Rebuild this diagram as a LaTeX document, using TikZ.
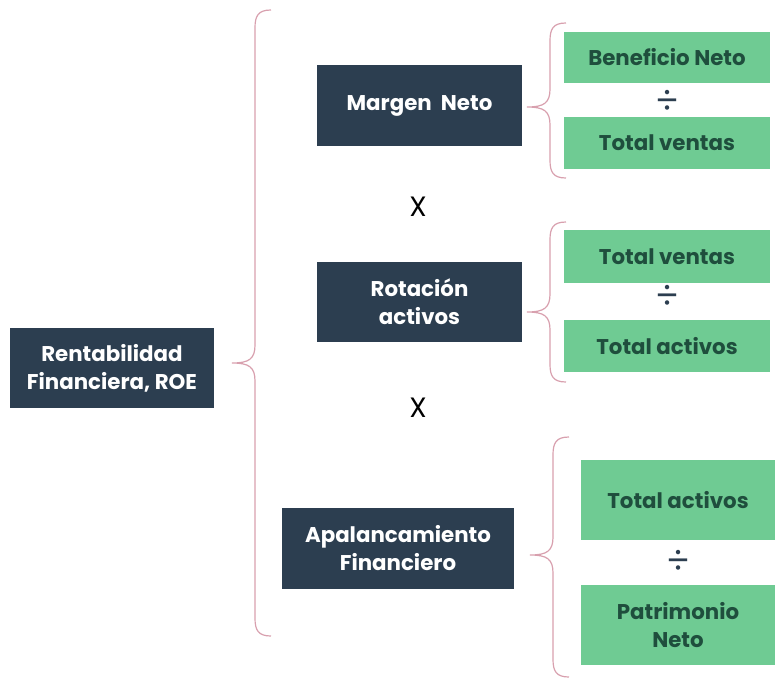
\documentclass[tikz,border=0pt]{standalone}
\usepackage{fontspec}
\setmainfont{Poppins}
\definecolor{navy}{HTML}{2C3E50}
\definecolor{mint}{HTML}{6FCB93}
\definecolor{minttext}{HTML}{1F4E3D}
\definecolor{bracecol}{HTML}{D8A0AE}
% #1 x of the stem, #2 top, #3 y of the tip, #4 bottom, #5 x of the tip
\newcommand{\curlyto}[5]{%
  \draw[curly] (#1+16,#2) .. controls (#1+3,#2) and (#1,#2+6) .. (#1,#2+18)
    -- (#1,#3-18) .. controls (#1,#3-4) and (#1-6,#3) .. (#5,#3)
    .. controls (#1-6,#3) and (#1,#3+4) .. (#1,#3+18)
    -- (#1,#4-18) .. controls (#1,#4-6) and (#1+3,#4) .. (#1+16,#4);}
\begin{document}
\begin{tikzpicture}[x=0.75pt,y=-0.75pt,
    darkbox/.style={fill=navy,text=white,align=center,inner sep=0pt,
      font=\bfseries\fontsize{16}{21}\selectfont},
    greenbox/.style={fill=mint,text=minttext,align=center,inner sep=0pt,
      font=\bfseries\fontsize{16}{21}\selectfont},
    sign/.style={font=\fontsize{21}{22}\selectfont},
    divsign/.style={text=navy,font=\fontsize{27}{28}\selectfont},
    curly/.style={draw=bracecol,line width=0.9pt}]
  \useasboundingbox (0,0) rectangle (775,679);
  % left column
  \node[darkbox,minimum width=153pt,minimum height=60pt] (roe) at (112,368)
    {Rentabilidad\\Financiera, ROE};
  % middle column
  \node[darkbox,minimum width=153.75pt,minimum height=60.75pt] (margen) at (419.5,105.5)
    {Margen\ \ Neto};
  \node[darkbox,minimum width=153.75pt,minimum height=60pt] (rotacion) at (419.5,302)
    {Rotación\\activos};
  \node[darkbox,minimum width=174pt,minimum height=60.75pt] (apal) at (398,548.5)
    {Apalancamiento\\Financiero};
  \node[sign] (x1) at (418,207) {X};
  \node[sign] (x2) at (418,408) {X};
  % right column
  \node[greenbox,minimum width=154.5pt,minimum height=38.25pt] (benef) at (667,57.5)
    {Beneficio Neto};
  \node[divsign] (d1) at (667,102) {÷};
  \node[greenbox,minimum width=154.5pt,minimum height=39pt] (ventasA) at (667,143)
    {Total ventas};
  \node[greenbox,minimum width=154.5pt,minimum height=39.75pt] (ventasB) at (667,256.5)
    {Total ventas};
  \node[divsign] (d2) at (667,297) {÷};
  \node[greenbox,minimum width=154.5pt,minimum height=39pt] (activosA) at (667,346)
    {Total activos};
  \node[greenbox,minimum width=145.5pt,minimum height=60pt] (activosB) at (678,500)
    {Total activos};
  \node[divsign] (d3) at (678,562) {÷};
  \node[greenbox,minimum width=145.5pt,minimum height=60pt] (patrim) at (678,625)
    {Patrimonio\\Neto};
  % braces
  \curlyto{255}{10}{363}{636}{232}
  \curlyto{550}{23}{107}{178}{527}
  \curlyto{550}{222}{312}{382}{527}
  \curlyto{553}{437}{555}{677}{530}
\end{tikzpicture}
\end{document}
